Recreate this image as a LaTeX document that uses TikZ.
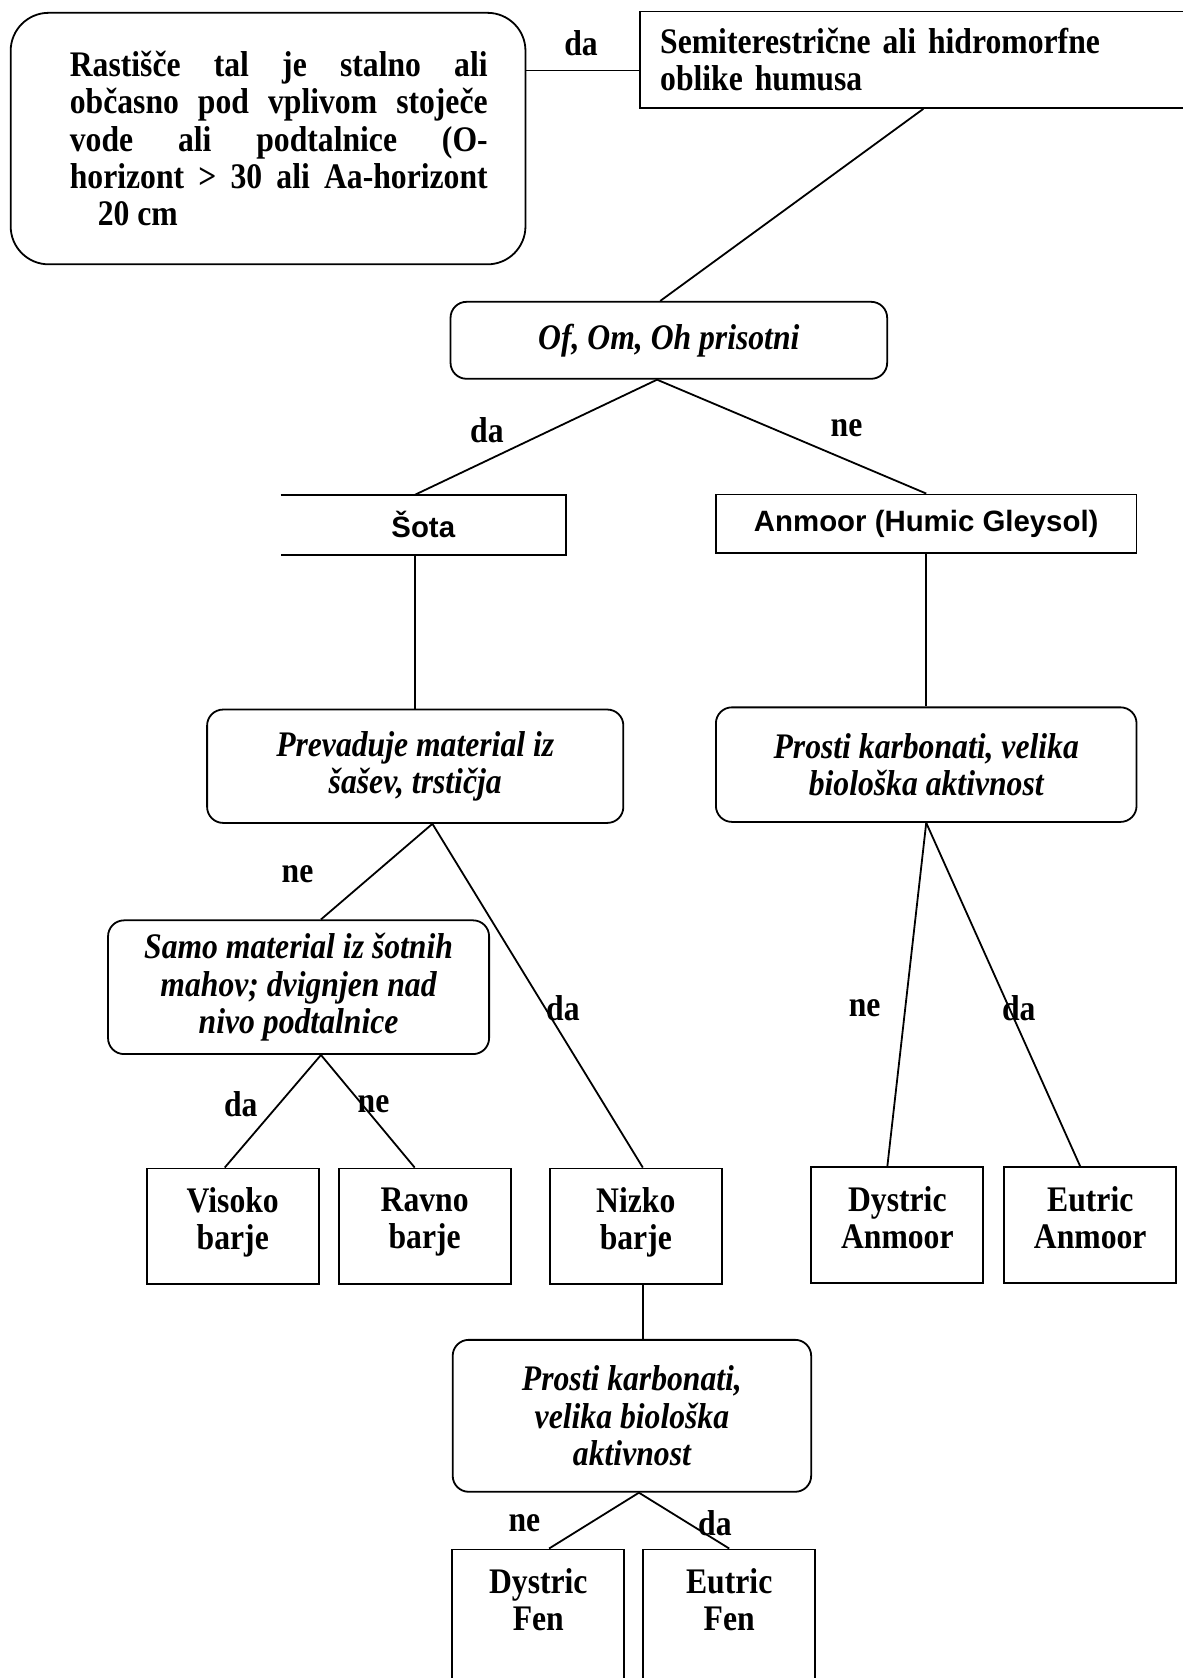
\documentclass[tikz,border=0pt]{standalone}
\usepackage{fontspec}
\setmainfont{Liberation Serif}[FakeStretch=0.88]
\setsansfont{Liberation Sans}
\usetikzlibrary{positioning}
\newcommand{\leaftext}[2]{\parbox[t][#1][t]{80pt}{\centering #2}}

\begin{document}
\begin{tikzpicture}[x=0.5353pt, y=-0.5353pt, line width=0.9pt,
  every node/.style = {font=\fontsize{18pt}{18.7pt}\selectfont\bfseries},
  cond/.style = {draw, rounded corners=8pt, align=center, font=\fontsize{18pt}{18.7pt}\selectfont\bfseries\itshape},
  leaf/.style = {draw, anchor=north, minimum width=86pt, inner xsep=3pt, inner ysep=9.6pt},
  title/.style = {draw, minimum height=29.4pt, font=\fontsize{14.7pt}{17pt}\selectfont\sffamily\bfseries},
  lbl/.style = {inner sep=1pt}]
\useasboundingbox (0,0) rectangle (1105,1568);

\node[draw, rounded corners=19pt, minimum width=257.5pt, minimum height=125.8pt, text width=219.7pt, align=justify, execute at begin node={\leftskip=10.7pt}] (rast) at (250.5,129.5) {Rastišče tal je stalno ali\linebreak občasno pod vplivom stoječe\linebreak vode ali podtalnice (O-\linebreak horizont > 30 ali Aa-horizont\linebreak\hspace*{14pt}20 cm};
\node[draw, anchor=north west, minimum width=283.7pt, minimum height=48.2pt, inner xsep=10.2pt, text width=263.3pt, align=left] (semi) at (597,10) {Semiterestrične ali hidromorfne\\oblike humusa};
\draw ([yshift=-5.4pt]semi.west) -- ([yshift=-5.4pt]semi.west -| rast.east);
\node[lbl] (da0) at (543,40) {da};

\node[cond, minimum width=218.4pt, minimum height=38.5pt] (ofom) at (625,318) {Of, Om, Oh prisotni};
\draw (semi.south) -- ([xshift=-4.3pt]ofom.north);

\node[title, draw=none, minimum width=141.9pt] (sota) at (395.5,490.5) {Šota};
\draw (sota.north west) -- (sota.north east) -- (sota.south east) -- (sota.south west);
\node[title, minimum width=210.4pt] (anmoor) at (865.5,489.5) {Anmoor (Humic Gleysol)};
\draw ([xshift=-5.9pt]ofom.south) -- ([xshift=-4pt]sota.north);
\draw ([xshift=-5.9pt]ofom.south) -- (anmoor.north);
\node[lbl] (da1) at (455,402) {da};
\node[lbl] (ne1) at (791,400) {ne};

\node[cond, minimum width=208.2pt, minimum height=56.7pt] (prev) at (388,716) {Prevaduje material iz\\šašev, trstičja};
\node[cond, minimum width=210.4pt, minimum height=57.3pt] (karbA) at (865.5,714.5) {Prosti karbonati, velika\\biološka aktivnost};
\draw (sota.south -| prev.north) -- (prev.north);
\draw (anmoor.south) -- (karbA.north);

\node[cond, minimum width=190.6pt, minimum height=66.9pt] (samo) at (279,922.5) {Samo material iz šotnih\\mahov; dvignjen nad\\nivo podtalnice};
\draw ([xshift=8.6pt]prev.south) -- ([xshift=11.2pt]samo.north);
\node[lbl] (ne2) at (278,817) {ne};
\node[lbl] (da2) at (526,942) {da};

% leaves
\node[leaf] (visoko) at (217.5,1091) {\leaftext{38.6pt}{Visoko\\barje}};
\node[leaf] (ravno) [right=9.1pt of visoko] {\leaftext{38.6pt}{Ravno\\barje}};
\node[leaf] (nizko) [right=18.7pt of ravno] {\leaftext{38.6pt}{Nizko\\barje}};
\draw ([xshift=11.2pt]samo.south) -- ([xshift=-4pt]visoko.north);
\draw ([xshift=11.2pt]samo.south) -- ([xshift=-5pt]ravno.north);
\draw ([xshift=8.6pt]prev.south) -- ([xshift=3.5pt]nizko.north);
\node[lbl] (da3) at (225,1032) {da};
\node[lbl] (ne3) at (349,1032) {ne};

\node[leaf] (dysA) at (838.5,1090) {\leaftext{38.6pt}{Dystric\\Anmoor}};
\node[leaf] (eutA) [right=9.6pt of dysA] {\leaftext{38.6pt}{Eutric\\Anmoor}};
\draw (karbA.south) -- ([xshift=-5pt]dysA.north);
\draw (karbA.south) -- ([xshift=-5pt]eutA.north);
\node[lbl] (ne4) at (808,942) {ne};
\node[lbl] (da4) at (952,942) {da};

\node[cond, minimum width=179.3pt, minimum height=76pt] (karbB) at (590.5,1323) {Prosti karbonati,\\velika biološka\\aktivnost};
\draw ([xshift=3.5pt]nizko.south) -- ([xshift=3.5pt]nizko.south |- karbB.north);

\node[leaf] (dysF) at (503,1447) {\leaftext{62.7pt}{Dystric\\Fen}};
\node[leaf] (eutF) [right=8.6pt of dysF] {\leaftext{62.7pt}{Eutric\\Fen}};
\draw ([xshift=3.5pt]karbB.south) -- ([xshift=5.4pt]dysF.north);
\draw ([xshift=3.5pt]karbB.south) -- (eutF.north);
\node[lbl] (ne5) at (490,1423) {ne};
\node[lbl] (da5) at (668,1423) {da};
\end{tikzpicture}
\end{document}
